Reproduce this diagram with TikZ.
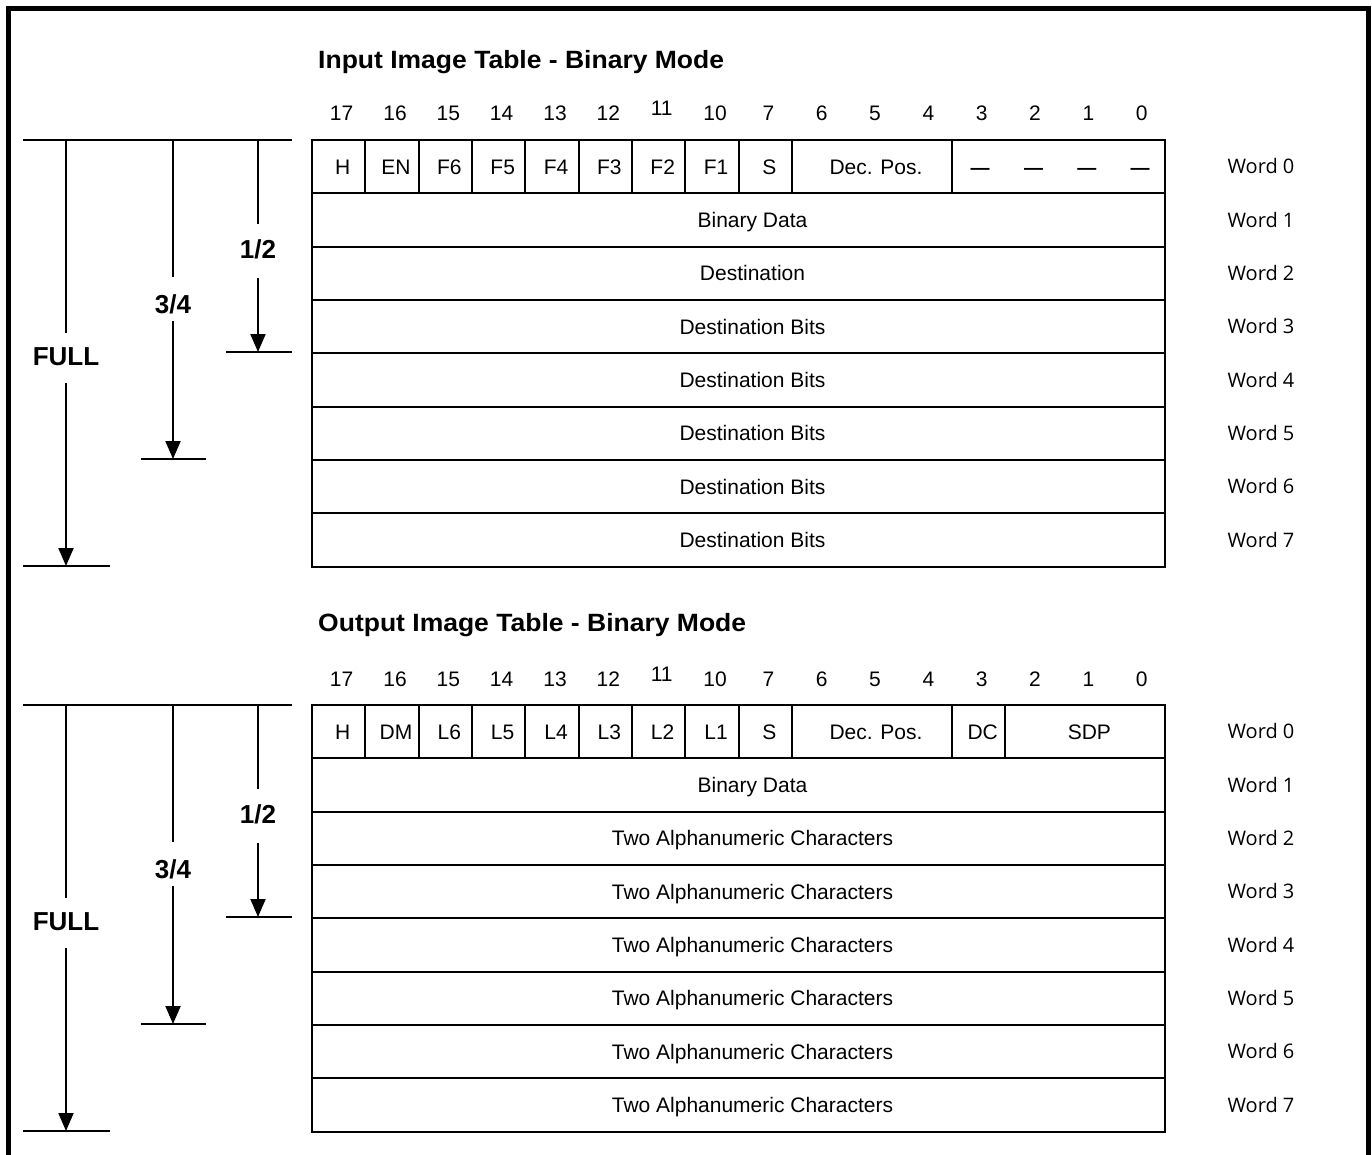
\documentclass[tikz,border=0pt]{standalone}
\usepackage{fontspec}
\setmainfont{Liberation Sans}
\newfontfamily\wordfont{Open Sans}
\usetikzlibrary{arrows.meta}
\begin{document}
\begin{tikzpicture}[x=1pt,y=-1pt,
  cell/.style={draw, line width=2pt, minimum height=53.33pt, inner sep=0pt},
  plain/.style={inner sep=0pt, text height=15pt, text depth=0pt, font=\fontsize{21}{25}\selectfont},
  dashmark/.style={inner sep=0pt, font=\fontsize{19}{25}\selectfont},
  wordlbl/.style={inner sep=0pt, text height=14.5pt, text depth=0pt, font=\wordfont\fontsize{20}{24}\selectfont},
  ttl/.style={anchor=west, inner sep=0pt, font=\bfseries\fontsize{25}{30}\selectfont},
  fraclbl/.style={inner sep=0pt, font=\bfseries\fontsize{26}{30}\selectfont},
  guide/.style={line width=2pt},
  arr/.style={line width=2pt, -{Triangle[width=15pt,length=18pt]}},
]
\useasboundingbox (0,0) rectangle (1372,1155);
\def\cw{53.333}
% frame
\draw[line width=5pt] (8,1165) -- (8,8.5) -- (1368,8.5) -- (1368,1165);

% ---------- titles
\node[ttl] (tin)  at (318,62)  {\scalebox{1.06}[1]{Input Image Table - Binary Mode}};
\node[ttl] (tout) at (318,625) {\scalebox{1.06}[1]{Output Image Table - Binary Mode}};

% ---------- bit numbers
\foreach \b [count=\k from 0] in {17,16,15,14,13,12,11,10,7,6,5,4,3,2,1,0}{
  \ifnum\b=11
    \node[plain] (ibit\k) at ({315+\cw*(\k+0.5)},108) {\b};
    \node[plain] (obit\k) at ({315+\cw*(\k+0.5)},674) {\b};
  \else
    \node[plain] (ibit\k) at ({315+\cw*(\k+0.5)},113) {\b};
    \node[plain] (obit\k) at ({315+\cw*(\k+0.5)},679) {\b};
  \fi
}

% ---------- input table word 0
\foreach \t/\s/\n [count=\i] in {H/0/1,EN/1/1,F6/2/1,F5/3/1,F4/4/1,F3/5/1,F2/6/1,F1/7/1,S/8/1,{Dec. Pos.}/9/3,{}/12/4}{
  \node[cell, minimum width={\n*\cw pt}] (iw0c\i) at ({312+\cw*(\s+\n/2)},166.67) {};
  \node[plain] (iw0t\i) at ({316+\cw*(\s+\n/2)},166.67) {\t};
}
\foreach \k in {12,...,15}{
  \node[dashmark] (idash\k) at ({313.5+\cw*(\k+0.5)},171.5) {\textbf{—}};
}
% input rows
\foreach \t [count=\r] in {Binary Data,Destination,Destination Bits,Destination Bits,Destination Bits,Destination Bits,Destination Bits}{
  \node[cell, minimum width={16*\cw pt}] (irow\r) at (738.67,{140+\cw*(\r+0.5)}) {};
  \node[plain] (irowt\r) at (752.5,{140+\cw*(\r+0.5)}) {\t};
}
\foreach \r in {0,...,7}{
  \node[wordlbl] (iword\r) at (1261,{166.67+\cw*\r}) {Word \r};
}

% ---------- output table word 0
\foreach \t/\s/\n [count=\i] in {H/0/1,DM/1/1,L6/2/1,L5/3/1,L4/4/1,L3/5/1,L2/6/1,L1/7/1,S/8/1,{Dec. Pos.}/9/3,DC/12/1,SDP/13/3}{
  \node[cell, minimum width={\n*\cw pt}] (ow0c\i) at ({312+\cw*(\s+\n/2)},731.67) {};
  \node[plain] (ow0t\i) at ({316+\cw*(\s+\n/2)},731.67) {\t};
}
\foreach \t [count=\r] in {Binary Data,Two Alphanumeric Characters,Two Alphanumeric Characters,Two Alphanumeric Characters,Two Alphanumeric Characters,Two Alphanumeric Characters,Two Alphanumeric Characters}{
  \node[cell, minimum width={16*\cw pt}] (orow\r) at (738.67,{705+\cw*(\r+0.5)}) {};
  \node[plain] (orowt\r) at (752.5,{705+\cw*(\r+0.5)}) {\t};
}
\foreach \r in {0,...,7}{
  \node[wordlbl] (oword\r) at (1261,{731.67+\cw*\r}) {Word \r};
}

% ---------- size guides
\foreach \p/\o in {i/0,o/565}{
  \coordinate (\p topL) at (23,{140+\o});
  \coordinate (\p topR) at (292,{140+\o});
  \draw[guide] (\p topL) -- (\p topR);
  % FULL
  \coordinate (\p fullA) at (66,{140+\o});
  \coordinate (\p fullB) at (66,{566+\o});
  \node[fraclbl] (\p full) at (66,{357+\o}) {FULL};
  \draw[guide, shorten >=15pt] (\p fullA) -- (\p full.north);
  \draw[arr, shorten <=17pt] (\p full.south) -- (\p fullB);
  \coordinate (\p fullL) at (23,{566+\o});
  \coordinate (\p fullR) at (110,{566+\o});
  \draw[guide] (\p fullL) -- (\p fullR);
  % 3/4
  \coordinate (\p tqA) at (173,{140+\o});
  \coordinate (\p tqB) at (173,{459+\o});
  \node[fraclbl] (\p tq) at (173,{304+\o}) {3/4};
  \draw[guide, shorten >=17pt] (\p tqA) -- (\p tq.north);
  \draw[arr, shorten <=7pt] (\p tq.south) -- (\p tqB);
  \coordinate (\p tqL) at (141,{459+\o});
  \coordinate (\p tqR) at (206,{459+\o});
  \draw[guide] (\p tqL) -- (\p tqR);
  % 1/2
  \coordinate (\p hfA) at (258,{140+\o});
  \coordinate (\p hfB) at (258,{352+\o});
  \node[fraclbl] (\p hf) at (258,{249+\o}) {1/2};
  \draw[guide, shorten >=15pt] (\p hfA) -- (\p hf.north);
  \draw[arr, shorten <=19pt] (\p hf.south) -- (\p hfB);
  \coordinate (\p hfL) at (226,{352+\o});
  \coordinate (\p hfR) at (292,{352+\o});
  \draw[guide] (\p hfL) -- (\p hfR);
}
\end{tikzpicture}
\end{document}
